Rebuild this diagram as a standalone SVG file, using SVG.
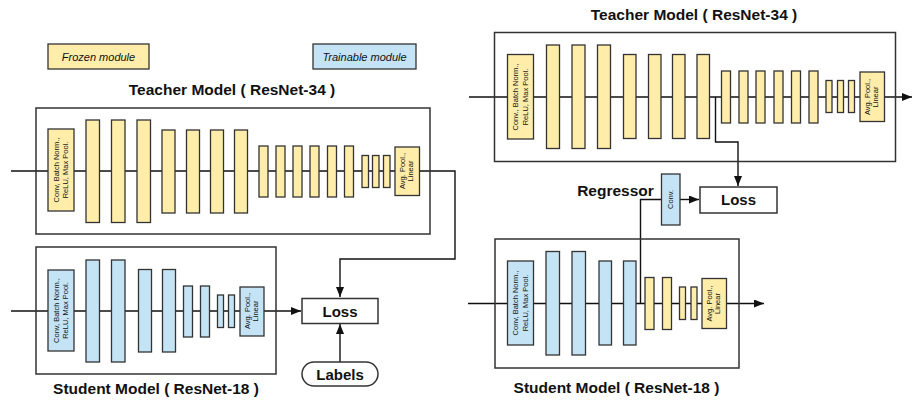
<svg xmlns="http://www.w3.org/2000/svg" width="912" height="405" viewBox="0 0 912 405">
<defs>
<style>
text{font-family:"Liberation Sans",Arial,sans-serif;fill:#111}
.fz{fill:#FFEDA9;stroke:#333;stroke-width:1.3}
.tr{fill:#C4E4F6;stroke:#333;stroke-width:1.3}
.box{fill:none;stroke:#333;stroke-width:1.5}
.wb{fill:#fff;stroke:#333;stroke-width:1.5}
.ln{fill:none;stroke:#111;stroke-width:1.4}
.t{font-size:7.5px;text-anchor:middle}
.ttl{font-size:15.5px;font-weight:bold;text-anchor:middle}
.lb{font-size:15px;font-weight:bold;text-anchor:middle}
.lg{font-size:11px;font-style:italic;text-anchor:middle}
</style>
<marker id="ar" markerUnits="userSpaceOnUse" markerWidth="10" markerHeight="8" refX="10" refY="4" orient="auto">
<path d="M0,0 L10,4 L0,8 z" fill="#111"/>
</marker>
</defs>
<rect width="912" height="405" fill="#fff"/>

<g id="connectors">
<!-- left teacher -->
<path class="ln" d="M11,171 H455 V259 H340 V297" marker-end="url(#ar)"/>
<!-- left student -->
<path class="ln" d="M11,311 H301" marker-end="url(#ar)"/>
<!-- labels to loss -->
<path class="ln" d="M340,362 V324" marker-end="url(#ar)"/>
<!-- right teacher -->
<path class="ln" d="M469,97 H912" marker-end="url(#ar)"/>
<path class="ln" d="M715.5,97 V142 H738 V186" marker-end="url(#ar)"/>
<!-- right student -->
<path class="ln" d="M468,303.5 H764" marker-end="url(#ar)"/>
<path class="ln" d="M640.5,303.5 V199.5 H662"/>
<path class="ln" d="M680,199.5 H699" marker-end="url(#ar)"/>
</g>

<g id="legend-frozen">
<rect class="fz" x="48" y="44" width="101" height="25"/>
<text class="lg" x="98.5" y="60.5">Frozen module</text>
</g>
<g id="legend-trainable">
<rect class="tr" x="313" y="44" width="103" height="25"/>
<text class="lg" x="364.5" y="60.5">Trainable module</text>
</g>

<!-- LEFT TEACHER -->
<g id="left-teacher">
<text class="ttl" x="232" y="95">Teacher Model ( ResNet-34 )</text>
<rect class="box" x="36" y="108" width="394" height="126"/>
<rect class="fz" x="48" y="129" width="26" height="82"/>
<text class="t" transform="translate(61,170) rotate(-90)"><tspan x="0" y="-2.2">Conv, Batch Norm.,</tspan><tspan x="0" y="7.2">ReLU, Max Pool.</tspan></text>
<rect class="fz" x="86" y="120" width="13.5" height="102.5"/>
<rect class="fz" x="111.5" y="120" width="13.5" height="102.5"/>
<rect class="fz" x="137" y="120" width="13.5" height="102.5"/>
<rect class="fz" x="162" y="130" width="13" height="83"/>
<rect class="fz" x="186.5" y="130" width="13" height="83"/>
<rect class="fz" x="210.5" y="130" width="13" height="83"/>
<rect class="fz" x="234.5" y="130" width="13" height="83"/>
<rect class="fz" x="259" y="146" width="9" height="51"/>
<rect class="fz" x="276" y="146" width="9" height="51"/>
<rect class="fz" x="293" y="146" width="9" height="51"/>
<rect class="fz" x="310" y="146" width="9" height="51"/>
<rect class="fz" x="327.5" y="146" width="9" height="51"/>
<rect class="fz" x="344.5" y="146" width="9" height="51"/>
<rect class="fz" x="362" y="155.5" width="6.5" height="32"/>
<rect class="fz" x="372.5" y="155.5" width="6.5" height="32"/>
<rect class="fz" x="383.5" y="155.5" width="6.5" height="32"/>
<rect class="fz" x="395" y="147" width="24.5" height="48.5"/>
<text class="t" transform="translate(406.5,171) rotate(-90)"><tspan x="0" y="-1.5">Avg. Pool.,</tspan><tspan x="0" y="6.5">Linear</tspan></text>
</g>

<!-- LEFT STUDENT -->
<g id="left-student">
<rect class="box" x="36" y="247" width="240" height="127"/>
<rect class="tr" x="48" y="270" width="26" height="81"/>
<text class="t" transform="translate(61,310.5) rotate(-90)"><tspan x="0" y="-2.2">Conv, Batch Norm.,</tspan><tspan x="0" y="7.2">ReLU, Max Pool.</tspan></text>
<rect class="tr" x="86" y="260" width="13.5" height="102"/>
<rect class="tr" x="111.5" y="260" width="13.5" height="102"/>
<rect class="tr" x="138.5" y="269.5" width="13" height="82.5"/>
<rect class="tr" x="162.5" y="269.5" width="13" height="82.5"/>
<rect class="tr" x="183.5" y="286" width="9" height="51"/>
<rect class="tr" x="200.5" y="286" width="9" height="51"/>
<rect class="tr" x="217.5" y="295" width="6" height="32.5"/>
<rect class="tr" x="228.5" y="295" width="6" height="32.5"/>
<rect class="tr" x="240" y="287" width="24" height="49"/>
<text class="t" transform="translate(251.5,311) rotate(-90)"><tspan x="0" y="-1.5">Avg. Pool.,</tspan><tspan x="0" y="6.5">Linear</tspan></text>
<text class="ttl" x="156" y="394">Student Model ( ResNet-18 )</text>
</g>

<g id="left-loss">
<rect class="wb" x="302" y="298.5" width="76" height="25"/>
<text class="lb" x="340" y="316.5">Loss</text>
</g>
<g id="labels">
<rect class="wb" x="302" y="362" width="76" height="24" rx="12" ry="12"/>
<text class="lb" x="340" y="379.5">Labels</text>
</g>

<!-- RIGHT TEACHER -->
<g id="right-teacher">
<text class="ttl" x="694" y="20">Teacher Model ( ResNet-34 )</text>
<rect class="box" x="494.5" y="32.5" width="401" height="129"/>
<rect class="fz" x="507.5" y="54.5" width="26" height="84.5"/>
<text class="t" transform="translate(520.5,97) rotate(-90)"><tspan x="0" y="-2.2">Conv., Batch Norm.,</tspan><tspan x="0" y="7.2">ReLU, Max Pool.</tspan></text>
<rect class="fz" x="546.5" y="45" width="13" height="103.5"/>
<rect class="fz" x="572" y="45" width="13" height="103.5"/>
<rect class="fz" x="597.5" y="45" width="13" height="103.5"/>
<rect class="fz" x="623.5" y="54.5" width="12.5" height="84"/>
<rect class="fz" x="648.5" y="54.5" width="12.5" height="84"/>
<rect class="fz" x="672.5" y="54.5" width="12.5" height="84"/>
<rect class="fz" x="697" y="54.5" width="12.5" height="84"/>
<rect class="fz" x="721.5" y="71" width="9" height="52"/>
<rect class="fz" x="739" y="71" width="9" height="52"/>
<rect class="fz" x="756" y="71" width="9" height="52"/>
<rect class="fz" x="774" y="71" width="9" height="52"/>
<rect class="fz" x="791.5" y="71" width="9" height="52"/>
<rect class="fz" x="809" y="71" width="9" height="52"/>
<rect class="fz" x="826" y="80.5" width="6" height="32"/>
<rect class="fz" x="837.5" y="80.5" width="6" height="32"/>
<rect class="fz" x="848.5" y="80.5" width="6" height="32"/>
<rect class="fz" x="860" y="72" width="24.5" height="49.5"/>
<text class="t" transform="translate(871.5,97) rotate(-90)"><tspan x="0" y="-1.5">Avg. Pool.,</tspan><tspan x="0" y="6.5">Linear</tspan></text>
</g>

<g id="regressor">
<text class="ttl" x="615.5" y="196">Regressor</text>
<rect class="tr" x="661.5" y="174" width="18.5" height="51"/>
<text class="t" transform="translate(670.75,199.5) rotate(-90)" y="2.6">Conv.</text>
</g>
<g id="right-loss">
<rect class="wb" x="700" y="187" width="77" height="26"/>
<text class="lb" x="738.5" y="205">Loss</text>
</g>

<!-- RIGHT STUDENT -->
<g id="right-student">
<rect class="box" x="495" y="239" width="244" height="129"/>
<rect class="tr" x="507.5" y="261" width="26" height="84"/>
<text class="t" transform="translate(520.5,303) rotate(-90)"><tspan x="0" y="-2.2">Conv, Batch Norm.,</tspan><tspan x="0" y="7.2">ReLU, Max Pool.</tspan></text>
<rect class="tr" x="546" y="251.5" width="13.5" height="103.5"/>
<rect class="tr" x="572" y="251.5" width="13.5" height="103.5"/>
<rect class="tr" x="599" y="261" width="12.5" height="84"/>
<rect class="tr" x="623.5" y="261" width="12.5" height="84"/>
<rect class="fz" x="645" y="277.5" width="9" height="52"/>
<rect class="fz" x="662.5" y="277.5" width="9" height="52"/>
<rect class="fz" x="679.5" y="287" width="6" height="32.5"/>
<rect class="fz" x="691" y="287" width="6" height="32.5"/>
<rect class="fz" x="702" y="278.5" width="24.5" height="50"/>
<text class="t" transform="translate(713.5,303.5) rotate(-90)"><tspan x="0" y="-1.5">Avg. Pool.,</tspan><tspan x="0" y="6.5">Linear</tspan></text>
<text class="ttl" x="616.5" y="393">Student Model ( ResNet-18 )</text>
</g>
</svg>
